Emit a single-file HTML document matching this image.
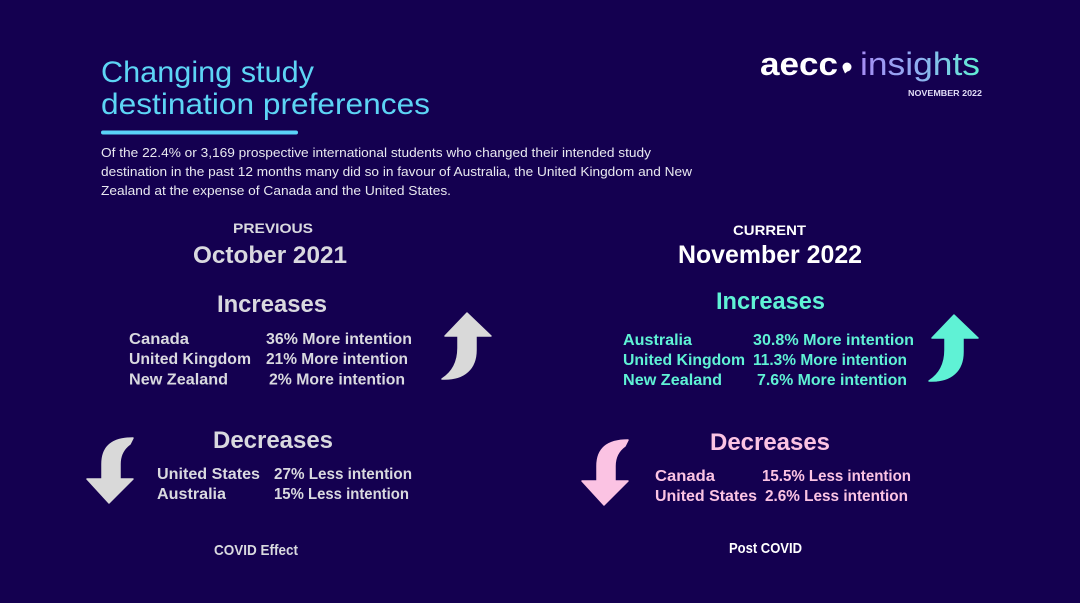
<!DOCTYPE html>
<html>
<head>
<meta charset="utf-8">
<style>
  html, body { margin: 0; padding: 0; background: #140050; }
  body { width: 1080px; height: 603px; overflow: hidden; }
  svg { display: block; }
  text { font-family: "Liberation Sans", "DejaVu Sans", sans-serif; }
  .b { font-weight: bold; }
</style>
</head>
<body>
<svg width="1080" height="603" viewBox="0 0 1080 603" xmlns="http://www.w3.org/2000/svg">
  <defs>
    <linearGradient id="ig" x1="860" y1="0" x2="980" y2="0" gradientUnits="userSpaceOnUse">
      <stop offset="0" stop-color="#a58cf4"/>
      <stop offset="0.5" stop-color="#8fb0f0"/>
      <stop offset="1" stop-color="#5ef0d2"/>
    </linearGradient>
  </defs>
  <rect x="0" y="0" width="1080" height="603" fill="#140050"/>

  <!-- Title -->
  <text x="101" y="82" font-size="30" fill="#5dd5f5" textLength="213" lengthAdjust="spacingAndGlyphs">Changing study</text>
  <text x="101" y="114" font-size="30" fill="#5dd5f5" textLength="329" lengthAdjust="spacingAndGlyphs">destination preferences</text>
  <rect x="101" y="130.5" width="197" height="4" rx="2" fill="#5ad2f8"/>

  <!-- Paragraph -->
  <text x="101" y="157" font-size="13" fill="#e8e8f0" textLength="550" lengthAdjust="spacingAndGlyphs">Of the 22.4% or 3,169 prospective international students who changed their intended study</text>
  <text x="101" y="176" font-size="13" fill="#e8e8f0" textLength="591" lengthAdjust="spacingAndGlyphs">destination in the past 12 months many did so in favour of Australia, the United Kingdom and New</text>
  <text x="101" y="195" font-size="13" fill="#e8e8f0" textLength="350" lengthAdjust="spacingAndGlyphs">Zealand at the expense of Canada and the United States.</text>

  <!-- Logo -->
  <text x="760" y="75" font-size="32" class="b" fill="#ffffff" textLength="78" lengthAdjust="spacingAndGlyphs">aecc</text>
  <circle cx="847" cy="67" r="4.5" fill="#ffffff"/>
  <path d="M843,69 L845,73.5 L848,71 Z" fill="#ffffff"/>
  <text x="860" y="75" font-size="32" fill="url(#ig)" textLength="120" lengthAdjust="spacingAndGlyphs">insights</text>
  <text x="908" y="96" font-size="8" class="b" fill="#e0dcf5" textLength="74" lengthAdjust="spacingAndGlyphs">NOVEMBER 2022</text>

  <!-- LEFT COLUMN -->
  <g fill="#d9d9df" class="b">
    <text x="233" y="233" font-size="14" font-weight="bold" textLength="80" lengthAdjust="spacingAndGlyphs">PREVIOUS</text>
    <text x="193" y="263" font-size="24" font-weight="bold" textLength="154" lengthAdjust="spacingAndGlyphs">October 2021</text>
    <text x="217" y="312" font-size="24" font-weight="bold" textLength="110" lengthAdjust="spacingAndGlyphs">Increases</text>

    <text x="129" y="344" font-size="16" font-weight="bold" textLength="60" lengthAdjust="spacingAndGlyphs">Canada</text>
    <text x="129" y="364" font-size="16" font-weight="bold" textLength="122" lengthAdjust="spacingAndGlyphs">United Kingdom</text>
    <text x="129" y="384.5" font-size="16" font-weight="bold" textLength="99" lengthAdjust="spacingAndGlyphs">New Zealand</text>
    <text x="266" y="344" font-size="16" font-weight="bold" textLength="146" lengthAdjust="spacingAndGlyphs">36% More intention</text>
    <text x="266" y="364" font-size="16" font-weight="bold" textLength="142" lengthAdjust="spacingAndGlyphs">21% More intention</text>
    <text x="269" y="384.5" font-size="16" font-weight="bold" textLength="136" lengthAdjust="spacingAndGlyphs">2% More intention</text>

    <text x="213" y="448" font-size="24" font-weight="bold" textLength="120" lengthAdjust="spacingAndGlyphs">Decreases</text>
    <text x="157" y="479" font-size="16" font-weight="bold" textLength="103" lengthAdjust="spacingAndGlyphs">United States</text>
    <text x="157" y="499" font-size="16" font-weight="bold" textLength="69" lengthAdjust="spacingAndGlyphs">Australia</text>
    <text x="274" y="479" font-size="16" font-weight="bold" textLength="138" lengthAdjust="spacingAndGlyphs">27% Less intention</text>
    <text x="274" y="499" font-size="16" font-weight="bold" textLength="135" lengthAdjust="spacingAndGlyphs">15% Less intention</text>

    <text x="214" y="555" font-size="15" font-weight="bold" textLength="84" lengthAdjust="spacingAndGlyphs">COVID Effect</text>
  </g>

  <!-- Left arrows -->
  <path transform="translate(-487,-2)" d="M954,315 L978,338 L963,338 L963,352 C963,370 952,382 929,381 C940,374 945,364 945,350 L945,338 L932,338 Z" fill="#d9d9d9" stroke="#d9d9d9" stroke-width="1.5" stroke-linejoin="round"/>
  <path transform="translate(-495,-2)" d="M628,440 L625,446 C618,451 615,458 615,466 L615,481 L628,481 L604,505 L582,481 L597,481 L597,466 C597,450 606,440 628,440 Z" fill="#d9d9d9" stroke="#d9d9d9" stroke-width="1.5" stroke-linejoin="round"/>

  <!-- RIGHT COLUMN -->
  <text x="733" y="235" font-size="14" font-weight="bold" fill="#ffffff" textLength="73" lengthAdjust="spacingAndGlyphs">CURRENT</text>
  <text x="678" y="263" font-size="25" font-weight="bold" fill="#ffffff" textLength="184" lengthAdjust="spacingAndGlyphs">November 2022</text>

  <g fill="#5ff2d5">
    <text x="716" y="309" font-size="24" font-weight="bold" textLength="109" lengthAdjust="spacingAndGlyphs">Increases</text>
    <text x="623" y="345" font-size="16" font-weight="bold" textLength="69" lengthAdjust="spacingAndGlyphs">Australia</text>
    <text x="623" y="365" font-size="16" font-weight="bold" textLength="122" lengthAdjust="spacingAndGlyphs">United Kingdom</text>
    <text x="623" y="385" font-size="16" font-weight="bold" textLength="99" lengthAdjust="spacingAndGlyphs">New Zealand</text>
    <text x="753" y="345" font-size="16" font-weight="bold" textLength="161" lengthAdjust="spacingAndGlyphs">30.8% More intention</text>
    <text x="753" y="365" font-size="16" font-weight="bold" textLength="154" lengthAdjust="spacingAndGlyphs">11.3% More intention</text>
    <text x="757" y="385" font-size="16" font-weight="bold" textLength="150" lengthAdjust="spacingAndGlyphs">7.6% More intention</text>
  </g>

  <g fill="#fbc3e3">
    <text x="710" y="450" font-size="24" font-weight="bold" textLength="120" lengthAdjust="spacingAndGlyphs">Decreases</text>
    <text x="655" y="481" font-size="16" font-weight="bold" textLength="60" lengthAdjust="spacingAndGlyphs">Canada</text>
    <text x="655" y="501" font-size="16" font-weight="bold" textLength="102" lengthAdjust="spacingAndGlyphs">United States</text>
    <text x="762" y="481" font-size="16" font-weight="bold" textLength="149" lengthAdjust="spacingAndGlyphs">15.5% Less intention</text>
    <text x="765" y="501" font-size="16" font-weight="bold" textLength="143" lengthAdjust="spacingAndGlyphs">2.6% Less intention</text>
  </g>

  <text x="729" y="553" font-size="15" font-weight="bold" fill="#ffffff" textLength="73" lengthAdjust="spacingAndGlyphs">Post COVID</text>

  <!-- Right arrows -->
  <path d="M954,315 L978,338 L963,338 L963,352 C963,370 952,382 929,381 C940,374 945,364 945,350 L945,338 L932,338 Z" fill="#5ff2d5" stroke="#5ff2d5" stroke-width="1.5" stroke-linejoin="round"/>
  <path d="M628,440 L625,446 C618,451 615,458 615,466 L615,481 L628,481 L604,505 L582,481 L597,481 L597,466 C597,450 606,440 628,440 Z" fill="#fbc3e3" stroke="#fbc3e3" stroke-width="1.5" stroke-linejoin="round"/>
</svg>
</body>
</html>
